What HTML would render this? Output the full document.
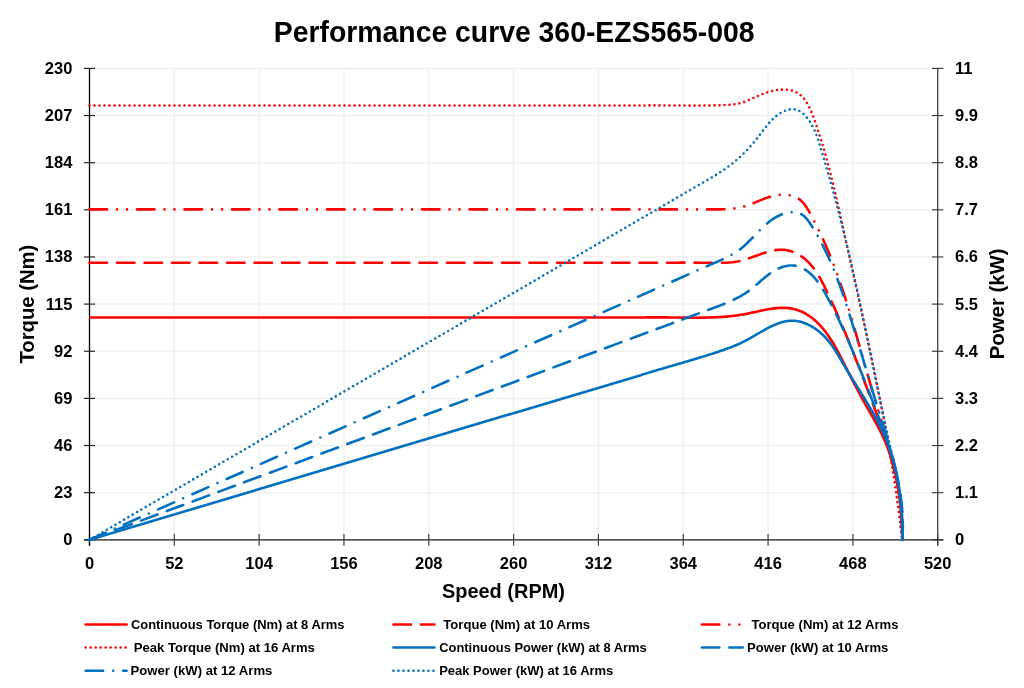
<!DOCTYPE html>
<html><head><meta charset="utf-8"><style>
html,body{margin:0;padding:0;background:#fff;}
svg{display:block;will-change:transform;}
text{font-family:"Liberation Sans",sans-serif;font-weight:bold;fill:#000;}
.g{stroke:#f0f0f0;stroke-width:1.5;}
.tl{font-size:16.5px;}
.title{font-size:30px;}
.at{font-size:20px;}
.lg{font-size:12.5px;}
</style></head><body>
<svg width="1024" height="688" viewBox="0 0 1024 688">
<rect width="1024" height="688" fill="#fff"/>
<line x1="89.5" y1="492.66" x2="937.7" y2="492.66" class="g"/>
<line x1="89.5" y1="445.52" x2="937.7" y2="445.52" class="g"/>
<line x1="89.5" y1="398.38" x2="937.7" y2="398.38" class="g"/>
<line x1="89.5" y1="351.24" x2="937.7" y2="351.24" class="g"/>
<line x1="89.5" y1="304.1" x2="937.7" y2="304.1" class="g"/>
<line x1="89.5" y1="256.96" x2="937.7" y2="256.96" class="g"/>
<line x1="89.5" y1="209.82" x2="937.7" y2="209.82" class="g"/>
<line x1="89.5" y1="162.68" x2="937.7" y2="162.68" class="g"/>
<line x1="89.5" y1="115.54" x2="937.7" y2="115.54" class="g"/>
<line x1="89.5" y1="68.4" x2="937.7" y2="68.4" class="g"/>
<line x1="174.32" y1="68.4" x2="174.32" y2="539.8" class="g"/>
<line x1="259.14" y1="68.4" x2="259.14" y2="539.8" class="g"/>
<line x1="343.96" y1="68.4" x2="343.96" y2="539.8" class="g"/>
<line x1="428.78" y1="68.4" x2="428.78" y2="539.8" class="g"/>
<line x1="513.6" y1="68.4" x2="513.6" y2="539.8" class="g"/>
<line x1="598.42" y1="68.4" x2="598.42" y2="539.8" class="g"/>
<line x1="683.24" y1="68.4" x2="683.24" y2="539.8" class="g"/>
<line x1="768.06" y1="68.4" x2="768.06" y2="539.8" class="g"/>
<line x1="852.88" y1="68.4" x2="852.88" y2="539.8" class="g"/>
<line x1="84" y1="539.8" x2="943.2" y2="539.8" stroke="#595959" stroke-width="1.75"/>
<line x1="89.5" y1="533.9" x2="89.5" y2="545.8" stroke="#404040" stroke-width="1.2"/>
<line x1="174.32" y1="533.9" x2="174.32" y2="545.8" stroke="#404040" stroke-width="1.2"/>
<line x1="259.14" y1="533.9" x2="259.14" y2="545.8" stroke="#404040" stroke-width="1.2"/>
<line x1="343.96" y1="533.9" x2="343.96" y2="545.8" stroke="#404040" stroke-width="1.2"/>
<line x1="428.78" y1="533.9" x2="428.78" y2="545.8" stroke="#404040" stroke-width="1.2"/>
<line x1="513.6" y1="533.9" x2="513.6" y2="545.8" stroke="#404040" stroke-width="1.2"/>
<line x1="598.42" y1="533.9" x2="598.42" y2="545.8" stroke="#404040" stroke-width="1.2"/>
<line x1="683.24" y1="533.9" x2="683.24" y2="545.8" stroke="#404040" stroke-width="1.2"/>
<line x1="768.06" y1="533.9" x2="768.06" y2="545.8" stroke="#404040" stroke-width="1.2"/>
<line x1="852.88" y1="533.9" x2="852.88" y2="545.8" stroke="#404040" stroke-width="1.2"/>
<line x1="937.7" y1="533.9" x2="937.7" y2="545.8" stroke="#404040" stroke-width="1.2"/>
<line x1="89.5" y1="68.4" x2="89.5" y2="545.8" stroke="#000" stroke-width="1.3"/>
<line x1="937.7" y1="68.4" x2="937.7" y2="545.8" stroke="#404040" stroke-width="1.3"/>
<line x1="84" y1="539.8" x2="95" y2="539.8" stroke="#262626" stroke-width="1.2"/>
<line x1="932" y1="539.8" x2="943.4" y2="539.8" stroke="#333" stroke-width="1.1"/>
<line x1="84" y1="492.66" x2="95" y2="492.66" stroke="#262626" stroke-width="1.2"/>
<line x1="932" y1="492.66" x2="943.4" y2="492.66" stroke="#333" stroke-width="1.1"/>
<line x1="84" y1="445.52" x2="95" y2="445.52" stroke="#262626" stroke-width="1.2"/>
<line x1="932" y1="445.52" x2="943.4" y2="445.52" stroke="#333" stroke-width="1.1"/>
<line x1="84" y1="398.38" x2="95" y2="398.38" stroke="#262626" stroke-width="1.2"/>
<line x1="932" y1="398.38" x2="943.4" y2="398.38" stroke="#333" stroke-width="1.1"/>
<line x1="84" y1="351.24" x2="95" y2="351.24" stroke="#262626" stroke-width="1.2"/>
<line x1="932" y1="351.24" x2="943.4" y2="351.24" stroke="#333" stroke-width="1.1"/>
<line x1="84" y1="304.1" x2="95" y2="304.1" stroke="#262626" stroke-width="1.2"/>
<line x1="932" y1="304.1" x2="943.4" y2="304.1" stroke="#333" stroke-width="1.1"/>
<line x1="84" y1="256.96" x2="95" y2="256.96" stroke="#262626" stroke-width="1.2"/>
<line x1="932" y1="256.96" x2="943.4" y2="256.96" stroke="#333" stroke-width="1.1"/>
<line x1="84" y1="209.82" x2="95" y2="209.82" stroke="#262626" stroke-width="1.2"/>
<line x1="932" y1="209.82" x2="943.4" y2="209.82" stroke="#333" stroke-width="1.1"/>
<line x1="84" y1="162.68" x2="95" y2="162.68" stroke="#262626" stroke-width="1.2"/>
<line x1="932" y1="162.68" x2="943.4" y2="162.68" stroke="#333" stroke-width="1.1"/>
<line x1="84" y1="115.54" x2="95" y2="115.54" stroke="#262626" stroke-width="1.2"/>
<line x1="932" y1="115.54" x2="943.4" y2="115.54" stroke="#333" stroke-width="1.1"/>
<line x1="84" y1="68.4" x2="95" y2="68.4" stroke="#262626" stroke-width="1.2"/>
<line x1="932" y1="68.4" x2="943.4" y2="68.4" stroke="#333" stroke-width="1.1"/>
<path d="M89.50 317.50 L640.01 317.55 L642.11 317.49 644.20 317.45 646.30 317.41 648.41 317.38 650.51 317.36 652.61 317.35 654.72 317.34 656.83 317.34 658.94 317.35 661.05 317.36 663.16 317.38 665.28 317.40 667.39 317.42 669.51 317.44 671.62 317.47 673.74 317.50 675.85 317.53 677.97 317.55 680.08 317.58 682.20 317.60 684.31 317.63 686.43 317.65 688.54 317.66 690.65 317.67 692.76 317.68 694.87 317.68 696.98 317.68 699.09 317.67 701.19 317.65 703.29 317.62 705.39 317.58 707.49 317.54 709.59 317.48 711.68 317.41 713.77 317.33 715.86 317.24 717.94 317.14 720.02 317.02 722.10 316.89 724.17 316.74 726.25 316.58 728.32 316.40 730.39 316.19 732.46 315.97 734.53 315.72 736.61 315.45 738.68 315.16 740.76 314.84 742.84 314.49 744.93 314.11 747.02 313.71 749.11 313.28 751.21 312.83 753.31 312.37 755.41 311.91 757.51 311.45 759.61 310.99 761.71 310.54 763.81 310.10 765.91 309.69 768.00 309.30 770.09 308.95 772.18 308.63 774.26 308.36 776.33 308.13 778.40 307.96 780.46 307.85 782.52 307.80 784.56 307.83 786.59 307.93 788.62 308.11 790.63 308.38 792.63 308.74 794.62 309.20 796.60 309.76 798.55 310.42 800.49 311.18 802.40 312.03 804.28 312.97 806.13 313.99 807.94 315.09 809.71 316.27 811.43 317.51 813.10 318.82 814.74 320.20 816.32 321.62 817.86 323.10 819.36 324.63 820.81 326.20 822.22 327.80 823.59 329.44 824.92 331.10 826.21 332.78 827.45 334.49 828.66 336.21 829.84 337.96 830.98 339.72 832.10 341.50 833.19 343.29 834.25 345.09 835.29 346.91 836.31 348.74 837.32 350.58 838.30 352.43 839.28 354.28 840.24 356.14 841.20 358.00 842.15 359.87 843.10 361.74 844.04 363.61 844.99 365.47 845.93 367.34 846.88 369.21 847.83 371.08 848.77 372.95 849.72 374.82 850.67 376.69 851.63 378.56 852.59 380.42 853.55 382.29 854.51 384.16 855.48 386.02 856.46 387.88 857.44 389.74 858.43 391.60 859.43 393.46 860.43 395.31 861.44 397.17 862.46 399.02 863.49 400.86 864.52 402.71 865.56 404.55 866.61 406.40 867.66 408.24 868.72 410.08 869.77 411.92 870.82 413.77 871.87 415.61 872.92 417.46 873.95 419.31 874.98 421.16 876.00 423.02 877.01 424.89 878.01 426.75 878.99 428.63 879.95 430.51 880.90 432.39 881.83 434.29 882.73 436.19 883.62 438.10 884.47 440.02 885.31 441.95 886.11 443.89 886.89 445.84 887.65 447.80 888.38 449.77 889.08 451.74 889.77 453.73 890.42 455.72 891.06 457.72 891.67 459.73 892.26 461.74 892.83 463.76 893.38 465.79 893.91 467.83 894.41 469.87 894.90 471.91 895.36 473.97 895.81 476.02 896.24 478.09 896.65 480.15 897.04 482.23 897.41 484.30 897.77 486.38 898.11 488.47 898.43 490.56 898.74 492.65 899.03 494.74 899.30 496.84 899.56 498.94 899.81 501.04 900.04 503.15 900.26 505.25 900.47 507.36 900.66 509.47 900.84 511.57 901.01 513.68 901.17 515.79 901.32 517.90 901.46 520.01 901.58 522.12 901.70 524.23 901.80 526.34 901.90 528.45 901.99 530.55 902.07 532.66 902.15 534.76 902.21 536.86 902.27 538.95 902.30 540.00" stroke="#ff0000" stroke-width="2.6" fill="none" stroke-linecap="butt" stroke-linejoin="round"/>
<path d="M89.50 262.70 L640.00 262.70 L642.36 262.71 644.72 262.71 647.08 262.72 649.43 262.72 651.79 262.72 654.15 262.72 656.51 262.72 658.87 262.72 661.23 262.71 663.59 262.71 665.95 262.70 668.31 262.70 670.67 262.69 673.03 262.69 675.39 262.68 677.75 262.68 680.11 262.67 682.47 262.67 684.83 262.67 687.19 262.67 689.55 262.67 691.92 262.67 694.28 262.67 696.63 262.67 698.99 262.68 701.35 262.69 703.71 262.70 706.07 262.72 708.43 262.73 710.79 262.75 713.15 262.77 715.50 262.79 717.86 262.81 720.21 262.80 722.56 262.77 724.91 262.71 727.25 262.61 729.58 262.45 731.91 262.24 734.23 261.97 736.54 261.62 738.85 261.19 741.14 260.67 743.42 260.07 745.70 259.40 747.97 258.67 750.24 257.89 752.50 257.09 754.77 256.26 757.03 255.43 759.30 254.61 761.57 253.81 763.85 253.03 766.14 252.31 768.44 251.64 770.75 251.05 773.05 250.55 775.36 250.15 777.66 249.86 779.95 249.71 782.22 249.70 784.47 249.86 786.70 250.17 788.90 250.64 791.07 251.26 793.20 252.01 795.29 252.89 797.33 253.90 799.32 255.03 801.26 256.27 803.13 257.61 804.95 259.04 806.69 260.57 808.36 262.17 809.97 263.86 811.50 265.61 812.98 267.43 814.40 269.31 815.76 271.25 817.08 273.23 818.35 275.26 819.57 277.33 820.76 279.44 821.92 281.57 823.05 283.72 824.15 285.90 825.23 288.08 826.29 290.28 827.34 292.47 828.38 294.67 829.41 296.86 830.43 299.04 831.44 301.23 832.44 303.42 833.44 305.60 834.42 307.78 835.40 309.96 836.37 312.13 837.33 314.31 838.28 316.48 839.22 318.65 840.16 320.83 841.09 323.00 842.02 325.16 842.94 327.33 843.85 329.50 844.75 331.67 845.66 333.83 846.55 336.00 847.44 338.16 848.32 340.33 849.20 342.49 850.08 344.66 850.95 346.82 851.82 348.99 852.68 351.16 853.54 353.32 854.39 355.49 855.25 357.66 856.09 359.82 856.94 361.99 857.79 364.17 858.63 366.34 859.47 368.51 860.30 370.68 861.14 372.86 861.98 375.04 862.81 377.22 863.64 379.40 864.47 381.58 865.31 383.77 866.14 385.96 866.97 388.15 867.80 390.34 868.63 392.53 869.46 394.73 870.29 396.93 871.12 399.13 871.95 401.34 872.77 403.55 873.59 405.76 874.41 407.97 875.23 410.18 876.04 412.40 876.85 414.62 877.65 416.85 878.45 419.07 879.24 421.30 880.03 423.53 880.81 425.77 881.58 428.00 882.35 430.24 883.10 432.49 883.85 434.73 884.60 436.98 885.33 439.23 886.05 441.48 886.76 443.74 887.47 446.00 888.16 448.26 888.84 450.52 889.51 452.79 890.17 455.06 890.81 457.33 891.45 459.61 892.07 461.89 892.67 464.17 893.26 466.46 893.84 468.74 894.40 471.03 894.95 473.33 895.48 475.62 896.00 477.92 896.50 480.23 896.98 482.53 897.44 484.84 897.89 487.15 898.32 489.47 898.73 491.79 899.12 494.11 899.49 496.43 899.84 498.76 900.17 501.09 900.48 503.42 900.77 505.76 901.03 508.10 901.28 510.44 901.50 512.79 901.70 515.14 901.88 517.49 902.03 519.84 902.16 522.20 902.26 524.57 902.34 526.93 902.39 529.30 902.42 531.67 902.42 534.05 902.39 536.43 902.34 538.81 902.30 540.00" stroke="#ff0000" stroke-width="2.6" fill="none" stroke-linecap="round" stroke-linejoin="round" stroke-dasharray="17.5 10"/>
<path d="M89.50 209.40 L640.00 209.40 L642.61 209.40 645.23 209.40 647.84 209.40 650.45 209.40 653.07 209.40 655.68 209.39 658.30 209.39 660.91 209.39 663.53 209.39 666.14 209.39 668.76 209.40 671.38 209.40 673.99 209.40 676.61 209.40 679.23 209.40 681.84 209.40 684.46 209.40 687.08 209.40 689.69 209.40 692.31 209.40 694.92 209.41 697.54 209.41 700.15 209.41 702.77 209.41 705.38 209.41 707.99 209.41 710.60 209.41 713.22 209.41 715.82 209.41 718.43 209.39 721.03 209.35 723.63 209.27 726.22 209.16 728.81 209.00 731.38 208.77 733.94 208.48 736.50 208.11 739.04 207.66 741.56 207.11 744.07 206.45 746.56 205.68 749.05 204.83 751.52 203.90 753.99 202.92 756.45 201.90 758.92 200.88 761.40 199.87 763.88 198.89 766.39 197.97 768.91 197.11 771.45 196.35 774.02 195.71 776.62 195.20 779.26 194.84 781.93 194.67 784.62 194.68 787.29 194.89 789.92 195.30 792.47 195.93 794.90 196.79 797.20 197.88 799.32 199.21 801.24 200.79 802.99 202.57 804.59 204.53 806.07 206.63 807.46 208.83 808.79 211.10 810.07 213.40 811.34 215.71 812.59 218.03 813.81 220.35 815.02 222.68 816.21 225.02 817.39 227.36 818.54 229.72 819.68 232.07 820.80 234.44 821.91 236.81 823.00 239.18 824.07 241.57 825.13 243.95 826.17 246.35 827.20 248.75 828.21 251.15 829.21 253.56 830.19 255.98 831.16 258.40 832.12 260.83 833.07 263.26 834.00 265.69 834.92 268.13 835.83 270.58 836.73 273.03 837.62 275.48 838.49 277.94 839.36 280.40 840.22 282.86 841.06 285.33 841.90 287.81 842.73 290.28 843.55 292.76 844.36 295.25 845.16 297.73 845.95 300.22 846.74 302.71 847.52 305.21 848.29 307.71 849.06 310.21 849.82 312.71 850.58 315.21 851.33 317.72 852.08 320.23 852.82 322.74 853.55 325.25 854.29 327.76 855.01 330.28 855.74 332.80 856.46 335.31 857.18 337.83 857.90 340.35 858.62 342.87 859.33 345.39 860.04 347.92 860.76 350.44 861.47 352.96 862.18 355.48 862.89 358.01 863.60 360.53 864.32 363.05 865.03 365.58 865.75 368.10 866.46 370.62 867.18 373.14 867.90 375.66 868.63 378.18 869.36 380.70 870.09 383.22 870.82 385.73 871.56 388.25 872.31 390.76 873.06 393.27 873.81 395.78 874.56 398.29 875.32 400.80 876.08 403.30 876.84 405.81 877.60 408.32 878.36 410.82 879.12 413.33 879.87 415.83 880.63 418.34 881.38 420.84 882.13 423.34 882.88 425.85 883.62 428.36 884.35 430.86 885.08 433.37 885.81 435.88 886.52 438.39 887.23 440.90 887.93 443.41 888.63 445.92 889.31 448.44 889.98 450.96 890.64 453.48 891.29 456.00 891.93 458.52 892.55 461.05 893.17 463.57 893.76 466.11 894.35 468.64 894.92 471.18 895.47 473.72 896.00 476.26 896.52 478.81 897.02 481.36 897.51 483.91 897.97 486.47 898.42 489.03 898.84 491.60 899.25 494.17 899.63 496.74 899.99 499.32 900.33 501.91 900.64 504.50 900.93 507.09 901.20 509.69 901.44 512.30 901.66 514.91 901.84 517.52 902.01 520.14 902.14 522.77 902.25 525.40 902.32 528.04 902.37 530.69 902.39 533.34 902.38 536.00 902.33 538.67 902.30 540.00" stroke="#ff0000" stroke-width="2.6" fill="none" stroke-linecap="round" stroke-linejoin="round" stroke-dasharray="17.5 10 0 10 0 10"/>
<path d="M89.50 105.50 L640.00 105.53 L641.56 105.50 643.12 105.48 644.68 105.46 646.24 105.45 647.80 105.43 649.37 105.42 650.93 105.41 652.49 105.41 654.05 105.41 655.61 105.41 657.17 105.41 658.73 105.41 660.30 105.41 661.86 105.42 663.42 105.43 664.98 105.44 666.54 105.45 668.11 105.46 669.67 105.47 671.23 105.48 672.79 105.49 674.35 105.50 675.92 105.52 677.48 105.53 679.04 105.54 680.60 105.55 682.16 105.56 683.73 105.57 685.29 105.58 686.85 105.59 688.41 105.60 689.97 105.60 691.54 105.61 693.10 105.61 694.66 105.61 696.22 105.61 697.78 105.60 699.34 105.60 700.90 105.59 702.46 105.58 704.02 105.56 705.59 105.54 707.15 105.52 708.71 105.50 710.27 105.47 711.83 105.44 713.39 105.41 714.94 105.37 716.50 105.32 718.06 105.28 719.62 105.22 721.18 105.17 722.74 105.11 724.30 105.04 725.85 104.97 727.41 104.89 728.97 104.79 730.52 104.68 732.06 104.54 733.61 104.37 735.14 104.16 736.67 103.91 738.19 103.62 739.70 103.27 741.20 102.86 742.69 102.40 744.16 101.90 745.63 101.36 747.08 100.79 748.52 100.19 749.94 99.58 751.36 98.96 752.76 98.33 754.16 97.70 755.56 97.07 756.96 96.44 758.36 95.81 759.77 95.20 761.19 94.60 762.62 94.02 764.07 93.46 765.53 92.92 767.02 92.41 768.53 91.93 770.07 91.49 771.64 91.08 773.24 90.72 774.87 90.40 776.52 90.13 778.19 89.91 779.87 89.75 781.54 89.65 783.21 89.60 784.86 89.63 786.49 89.72 788.09 89.88 789.65 90.11 791.16 90.43 792.62 90.82 795.36 91.86 797.86 93.21 800.14 94.85 802.22 96.75 804.12 98.89 805.85 101.23 807.44 103.75 808.18 105.07 808.90 106.43 809.58 107.81 810.25 109.23 810.88 110.67 811.50 112.13 812.10 113.62 812.68 115.11 813.25 116.62 813.81 118.14 814.36 119.66 814.90 121.18 815.43 122.70 815.96 124.23 816.48 125.75 817.00 127.27 817.51 128.79 818.01 130.31 818.52 131.84 819.01 133.36 819.50 134.88 819.99 136.40 820.46 137.92 820.94 139.43 821.41 140.95 821.87 142.47 822.34 143.99 822.79 145.51 823.24 147.03 823.69 148.54 824.13 150.06 824.57 151.58 825.00 153.09 825.43 154.61 825.86 156.13 826.28 157.64 826.70 159.16 827.11 160.67 827.52 162.19 827.93 163.71 828.33 165.22 828.74 166.74 829.13 168.25 829.53 169.77 829.92 171.28 830.30 172.79 830.69 174.31 831.07 175.82 831.45 177.34 831.82 178.85 832.20 180.36 832.57 181.88 832.93 183.39 833.30 184.91 833.66 186.42 834.02 187.93 834.38 189.45 834.74 190.96 835.10 192.47 835.45 193.99 835.80 195.50 836.15 197.01 836.50 198.53 836.84 200.04 837.19 201.55 837.53 203.07 837.87 204.58 838.21 206.09 838.55 207.61 838.89 209.12 839.23 210.63 839.57 212.15 839.90 213.66 840.24 215.18 840.57 216.69 840.91 218.20 841.24 219.72 841.58 221.23 841.91 222.75 842.24 224.26 842.57 225.78 842.91 227.29 843.24 228.81 843.57 230.32 843.91 231.84 844.24 233.35 844.57 234.87 844.91 236.39 845.24 237.90 845.58 239.42 845.91 240.94 846.25 242.45 846.58 243.97 846.92 245.49 847.26 247.00 847.59 248.52 847.93 250.04 848.27 251.56 848.60 253.07 848.94 254.59 849.28 256.11 849.62 257.63 849.95 259.15 850.29 260.67 850.63 262.19 850.97 263.71 851.31 265.23 851.65 266.75 851.98 268.27 852.32 269.79 852.66 271.31 853.00 272.83 853.34 274.35 853.68 275.87 854.02 277.39 854.35 278.91 854.69 280.43 855.03 281.96 855.37 283.48 855.71 285.00 856.05 286.52 856.39 288.04 856.72 289.57 857.06 291.09 857.40 292.61 857.74 294.14 858.08 295.66 858.42 297.18 858.75 298.71 859.09 300.23 859.43 301.75 859.77 303.28 860.10 304.80 860.44 306.33 860.78 307.85 861.11 309.38 861.45 310.90 861.78 312.43 862.12 313.95 862.45 315.48 862.79 317.00 863.12 318.53 863.46 320.06 863.79 321.58 864.13 323.11 864.46 324.64 864.79 326.16 865.12 327.69 865.46 329.22 865.79 330.74 866.12 332.27 866.45 333.80 866.78 335.33 867.11 336.86 867.44 338.38 867.77 339.91 868.10 341.44 868.43 342.97 868.75 344.50 869.08 346.03 869.41 347.56 869.73 349.09 870.06 350.62 870.38 352.15 870.71 353.68 871.03 355.21 871.36 356.74 871.68 358.27 872.00 359.80 872.32 361.33 872.64 362.86 872.96 364.39 873.28 365.92 873.60 367.45 873.92 368.99 874.23 370.52 874.55 372.05 874.87 373.58 875.18 375.11 875.50 376.65 875.81 378.18 876.12 379.71 876.43 381.25 876.74 382.78 877.05 384.31 877.36 385.85 877.67 387.38 877.98 388.91 878.29 390.45 878.59 391.98 878.90 393.52 879.20 395.05 879.51 396.59 879.81 398.12 880.11 399.66 880.41 401.19 880.71 402.73 881.01 404.26 881.31 405.80 881.60 407.33 881.90 408.87 882.19 410.41 882.49 411.94 882.78 413.48 883.07 415.01 883.36 416.55 883.65 418.09 883.94 419.63 884.22 421.16 884.51 422.70 884.80 424.24 885.08 425.78 885.36 427.31 885.64 428.85 885.92 430.39 886.20 431.93 886.48 433.47 886.76 435.01 887.03 436.55 887.31 438.08 887.58 439.62 887.85 441.16 888.12 442.70 888.39 444.24 888.66 445.78 888.93 447.32 889.19 448.86 889.46 450.40 889.72 451.94 889.98 453.48 890.24 455.02 890.50 456.57 890.76 458.11 891.01 459.65 891.27 461.19 891.52 462.73 891.77 464.27 892.02 465.81 892.27 467.36 892.52 468.90 892.76 470.44 893.01 471.98 893.25 473.53 893.49 475.07 893.73 476.61 893.97 478.15 894.20 479.70 894.44 481.24 894.67 482.79 894.90 484.33 895.13 485.87 895.36 487.42 895.59 488.96 895.82 490.51 896.04 492.05 896.26 493.59 896.48 495.14 896.70 496.68 896.92 498.23 897.13 499.77 897.35 501.32 897.56 502.86 897.77 504.41 897.98 505.96 898.18 507.50 898.39 509.05 898.59 510.59 898.79 512.14 898.99 513.69 899.19 515.23 899.39 516.78 899.58 518.33 899.77 519.87 899.96 521.42 900.15 522.97 900.34 524.52 900.52 526.06 900.71 527.61 900.89 529.16 901.07 530.71 901.24 532.26 901.42 533.81 901.59 535.35 901.76 536.90 901.93 538.45 902.10 540.00 902.10 540.00" stroke="#ff0000" stroke-width="2.6" fill="none" stroke-linecap="round" stroke-linejoin="round" stroke-dasharray="0 5"/>
<path d="M89.50 539.80 L640.03 375.39 L642.03 374.76 644.03 374.13 646.04 373.50 648.06 372.88 650.08 372.27 652.10 371.65 654.12 371.04 656.15 370.43 658.19 369.83 660.22 369.23 662.26 368.63 664.30 368.03 666.34 367.43 668.38 366.84 670.42 366.24 672.47 365.65 674.51 365.06 676.56 364.46 678.60 363.87 680.64 363.28 682.69 362.68 684.73 362.09 686.77 361.49 688.81 360.89 690.84 360.29 692.88 359.69 694.91 359.08 696.94 358.47 698.96 357.86 700.98 357.25 703.00 356.63 705.01 356.01 707.02 355.38 709.03 354.75 711.03 354.12 713.02 353.47 715.01 352.83 716.99 352.18 718.96 351.52 720.93 350.85 722.89 350.18 724.85 349.50 726.80 348.80 728.74 348.09 730.68 347.35 732.62 346.59 734.55 345.81 736.48 345.00 738.40 344.15 740.33 343.28 742.25 342.36 744.17 341.40 746.09 340.40 748.01 339.36 749.93 338.30 751.84 337.21 753.76 336.10 755.68 334.99 757.60 333.87 759.52 332.75 761.44 331.64 763.36 330.55 765.29 329.49 767.21 328.45 769.14 327.45 771.07 326.49 773.00 325.58 774.93 324.73 776.87 323.94 778.81 323.22 780.75 322.58 782.70 322.01 784.65 321.54 786.60 321.17 788.56 320.89 790.52 320.73 792.49 320.68 794.46 320.75 796.44 320.95 798.41 321.27 800.39 321.72 802.36 322.28 804.31 322.95 806.26 323.72 808.18 324.59 810.08 325.55 811.95 326.60 813.79 327.73 815.59 328.94 817.35 330.22 819.07 331.56 820.74 332.97 822.35 334.42 823.91 335.93 825.41 337.48 826.85 339.07 828.23 340.70 829.56 342.35 830.84 344.04 832.08 345.76 833.28 347.50 834.45 349.27 835.59 351.05 836.71 352.85 837.81 354.66 838.89 356.48 839.96 358.31 841.03 360.15 842.10 361.98 843.17 363.82 844.25 365.65 845.34 367.47 846.43 369.30 847.53 371.12 848.64 372.93 849.75 374.75 850.87 376.56 851.99 378.37 853.12 380.18 854.25 381.98 855.37 383.79 856.50 385.59 857.63 387.40 858.76 389.20 859.89 391.01 861.01 392.82 862.13 394.62 863.25 396.43 864.36 398.24 865.46 400.06 866.56 401.87 867.66 403.69 868.74 405.51 869.82 407.34 870.89 409.16 871.94 411.00 872.99 412.84 874.02 414.68 875.04 416.53 876.05 418.38 877.04 420.24 878.02 422.11 878.99 423.98 879.93 425.86 880.86 427.75 881.77 429.64 882.67 431.54 883.54 433.45 884.39 435.38 885.23 437.30 886.04 439.24 886.82 441.19 887.59 443.15 888.33 445.12 889.05 447.10 889.75 449.08 890.42 451.08 891.08 453.08 891.71 455.09 892.32 457.11 892.91 459.14 893.48 461.17 894.03 463.22 894.56 465.26 895.07 467.32 895.56 469.38 896.03 471.45 896.48 473.52 896.91 475.60 897.33 477.68 897.72 479.76 898.10 481.86 898.46 483.95 898.80 486.05 899.13 488.15 899.43 490.26 899.72 492.37 900.00 494.48 900.25 496.60 900.49 498.71 900.72 500.83 900.93 502.95 901.12 505.07 901.30 507.19 901.46 509.32 901.61 511.44 901.75 513.56 901.87 515.69 901.97 517.81 902.06 519.93 902.14 522.05 902.21 524.17 902.26 526.29 902.30 528.41 902.33 530.52 902.34 532.63 902.34 534.74 902.33 536.85 902.31 538.95 902.30 540.00" stroke="#0070c0" stroke-width="2.6" fill="none" stroke-linecap="butt" stroke-linejoin="round"/>
<path d="M89.50 539.80 L640.00 335.24 L642.23 334.40 644.47 333.57 646.70 332.74 648.94 331.91 651.17 331.08 653.40 330.25 655.64 329.42 657.87 328.59 660.11 327.76 662.34 326.93 664.57 326.10 666.81 325.27 669.04 324.44 671.28 323.61 673.51 322.78 675.75 321.95 677.98 321.12 680.22 320.29 682.45 319.46 684.69 318.63 686.92 317.80 689.16 316.97 691.39 316.14 693.63 315.31 695.86 314.48 698.10 313.65 700.33 312.82 702.57 311.99 704.80 311.17 707.04 310.34 709.27 309.51 711.51 308.68 713.74 307.86 715.97 307.03 718.20 306.19 720.43 305.34 722.64 304.48 724.85 303.60 727.04 302.70 729.22 301.77 731.38 300.81 733.53 299.82 735.65 298.79 737.76 297.71 739.84 296.59 741.89 295.42 743.91 294.20 745.90 292.92 747.86 291.58 749.79 290.17 751.68 288.70 753.55 287.18 755.40 285.62 757.23 284.03 759.06 282.43 760.89 280.84 762.73 279.25 764.58 277.69 766.45 276.16 768.35 274.68 770.29 273.27 772.27 271.93 774.30 270.67 776.39 269.52 778.54 268.47 780.76 267.56 783.03 266.78 785.34 266.16 787.68 265.72 790.03 265.47 792.37 265.43 794.70 265.62 796.99 266.06 799.24 266.74 801.42 267.64 803.53 268.71 805.55 269.92 807.48 271.25 809.32 272.68 811.07 274.22 812.75 275.85 814.35 277.56 815.89 279.35 817.37 281.21 818.79 283.12 820.15 285.10 821.47 287.12 822.76 289.17 824.00 291.26 825.21 293.38 826.40 295.50 827.57 297.64 828.73 299.78 829.87 301.92 831.00 304.06 832.11 306.21 833.21 308.35 834.29 310.50 835.36 312.65 836.42 314.80 837.47 316.96 838.51 319.11 839.53 321.27 840.55 323.43 841.55 325.59 842.55 327.76 843.53 329.92 844.51 332.09 845.47 334.26 846.43 336.43 847.38 338.60 848.32 340.78 849.26 342.95 850.18 345.13 851.11 347.31 852.02 349.49 852.93 351.68 853.83 353.86 854.73 356.05 855.62 358.24 856.51 360.43 857.40 362.62 858.28 364.81 859.16 367.01 860.03 369.20 860.91 371.40 861.78 373.60 862.65 375.80 863.52 378.01 864.38 380.21 865.25 382.42 866.12 384.63 866.98 386.84 867.85 389.05 868.72 391.26 869.59 393.48 870.46 395.70 871.33 397.91 872.19 400.13 873.06 402.36 873.92 404.58 874.78 406.81 875.64 409.04 876.49 411.27 877.34 413.50 878.18 415.73 879.02 417.97 879.85 420.21 880.68 422.45 881.50 424.69 882.31 426.94 883.11 429.19 883.91 431.44 884.69 433.70 885.47 435.95 886.24 438.21 886.99 440.48 887.74 442.74 888.47 445.01 889.19 447.28 889.90 449.56 890.60 451.83 891.28 454.11 891.95 456.40 892.60 458.69 893.24 460.98 893.86 463.27 894.47 465.57 895.05 467.87 895.63 470.17 896.18 472.48 896.72 474.79 897.23 477.11 897.73 479.43 898.21 481.75 898.67 484.08 899.10 486.41 899.52 488.74 899.91 491.08 900.28 493.42 900.63 495.77 900.96 498.12 901.26 500.47 901.53 502.83 901.78 505.20 902.01 507.57 902.21 509.94 902.38 512.32 902.53 514.70 902.65 517.09 902.74 519.48 902.80 521.87 902.83 524.27 902.83 526.68 902.81 529.09 902.75 531.51 902.66 533.93 902.54 536.35 902.39 538.78 902.30 540.00" stroke="#0070c0" stroke-width="2.6" fill="none" stroke-linecap="round" stroke-linejoin="round" stroke-dasharray="17.5 10"/>
<path d="M89.50 539.80 L639.99 295.86 L642.44 294.80 644.88 293.74 647.31 292.67 649.75 291.60 652.18 290.52 654.61 289.45 657.04 288.37 659.47 287.29 661.90 286.21 664.33 285.12 666.76 284.04 669.18 282.96 671.61 281.87 674.03 280.79 676.46 279.70 678.88 278.62 681.31 277.53 683.74 276.45 686.16 275.37 688.59 274.28 691.02 273.20 693.45 272.13 695.89 271.05 698.32 269.98 700.76 268.91 703.19 267.84 705.63 266.77 708.08 265.71 710.52 264.65 712.97 263.60 715.42 262.55 717.87 261.49 720.30 260.41 722.72 259.31 725.12 258.18 727.49 257.00 729.84 255.78 732.14 254.50 734.40 253.16 736.62 251.74 738.78 250.24 740.88 248.65 742.93 246.98 744.93 245.23 746.88 243.41 748.81 241.54 750.70 239.64 752.58 237.70 754.46 235.75 756.33 233.80 758.20 231.86 760.09 229.93 762.01 228.04 763.95 226.20 765.93 224.41 767.96 222.69 770.04 221.05 772.19 219.51 774.40 218.07 776.70 216.75 779.08 215.55 781.55 214.50 784.12 213.61 786.76 212.90 789.42 212.41 792.06 212.17 794.65 212.21 797.15 212.57 799.50 213.28 801.67 214.37 803.68 215.81 805.53 217.55 807.26 219.52 808.88 221.66 810.42 223.93 811.91 226.26 813.36 228.61 814.78 230.96 816.17 233.32 817.52 235.69 818.85 238.07 820.14 240.46 821.41 242.85 822.65 245.24 823.86 247.65 825.05 250.06 826.21 252.48 827.35 254.90 828.47 257.33 829.56 259.77 830.63 262.21 831.68 264.66 832.70 267.11 833.71 269.57 834.70 272.03 835.68 274.50 836.63 276.97 837.57 279.45 838.50 281.93 839.40 284.42 840.30 286.91 841.18 289.40 842.05 291.90 842.91 294.40 843.76 296.91 844.60 299.41 845.43 301.93 846.25 304.44 847.07 306.96 847.88 309.48 848.68 312.00 849.48 314.53 850.28 317.06 851.07 319.59 851.85 322.12 852.64 324.65 853.42 327.19 854.20 329.73 854.97 332.27 855.75 334.81 856.52 337.35 857.29 339.90 858.05 342.44 858.82 344.99 859.58 347.54 860.34 350.08 861.11 352.63 861.87 355.18 862.63 357.74 863.38 360.29 864.14 362.84 864.90 365.39 865.66 367.95 866.42 370.50 867.18 373.05 867.94 375.61 868.70 378.16 869.46 380.71 870.23 383.27 870.99 385.82 871.76 388.37 872.52 390.92 873.29 393.47 874.07 396.02 874.84 398.57 875.62 401.12 876.40 403.67 877.18 406.21 877.97 408.76 878.76 411.30 879.55 413.85 880.35 416.39 881.15 418.92 881.95 421.46 882.76 424.00 883.57 426.53 884.37 429.07 885.17 431.61 885.97 434.14 886.76 436.68 887.54 439.22 888.31 441.76 889.07 444.31 889.81 446.85 890.55 449.40 891.26 451.96 891.96 454.51 892.63 457.08 893.29 459.65 893.92 462.22 894.52 464.80 895.10 467.39 895.66 469.98 896.19 472.57 896.70 475.18 897.18 477.79 897.64 480.40 898.07 483.02 898.49 485.64 898.88 488.26 899.24 490.89 899.59 493.53 899.91 496.17 900.21 498.81 900.49 501.45 900.74 504.10 900.98 506.75 901.20 509.40 901.39 512.05 901.57 514.71 901.72 517.37 901.86 520.03 901.98 522.69 902.08 525.35 902.16 528.01 902.22 530.68 902.26 533.34 902.29 536.00 902.30 538.67 902.30 540.00" stroke="#0070c0" stroke-width="2.6" fill="none" stroke-linecap="round" stroke-linejoin="round" stroke-dasharray="17.5 10 0 10"/>
<path d="M89.50 539.80 L639.99 219.24 L641.40 218.43 642.80 217.62 644.20 216.82 645.60 216.01 647.00 215.20 648.39 214.38 649.79 213.57 651.18 212.76 652.58 211.95 653.97 211.14 655.36 210.33 656.75 209.52 658.14 208.70 659.53 207.89 660.92 207.08 662.31 206.27 663.70 205.45 665.09 204.64 666.48 203.83 667.87 203.02 669.26 202.20 670.64 201.39 672.03 200.58 673.42 199.77 674.81 198.95 676.20 198.14 677.59 197.33 678.98 196.52 680.36 195.71 681.76 194.89 683.15 194.08 684.54 193.27 685.93 192.46 687.32 191.65 688.71 190.84 690.11 190.03 691.50 189.22 692.90 188.41 694.30 187.60 695.70 186.79 697.10 185.99 698.50 185.18 699.90 184.37 701.30 183.56 702.71 182.76 704.11 181.95 705.51 181.14 706.92 180.33 708.32 179.51 709.71 178.70 711.11 177.87 712.49 177.05 713.88 176.21 715.25 175.37 716.62 174.52 717.98 173.67 719.34 172.81 720.68 171.93 722.02 171.05 723.34 170.16 724.65 169.25 725.95 168.33 727.24 167.40 728.52 166.46 729.78 165.51 731.04 164.54 732.28 163.56 733.51 162.57 734.73 161.56 735.93 160.54 737.13 159.50 738.31 158.46 739.49 157.40 740.66 156.32 741.81 155.23 742.95 154.13 744.09 153.01 745.22 151.88 746.33 150.73 747.44 149.57 748.54 148.40 749.63 147.20 750.71 146.00 751.78 144.78 752.84 143.54 753.90 142.29 754.94 141.02 755.98 139.74 757.01 138.44 758.04 137.12 759.06 135.80 760.07 134.46 761.09 133.12 762.10 131.78 763.12 130.44 764.15 129.11 765.18 127.78 766.22 126.47 767.27 125.18 768.34 123.91 769.42 122.66 770.52 121.45 771.64 120.26 772.79 119.11 773.95 118.00 775.15 116.94 776.37 115.92 777.62 114.95 778.91 114.04 780.23 113.19 781.59 112.40 782.99 111.68 784.43 111.02 785.92 110.44 787.44 109.95 788.99 109.55 790.54 109.28 792.10 109.15 793.63 109.18 795.13 109.39 796.59 109.78 797.99 110.35 799.35 111.06 800.66 111.90 801.92 112.83 803.12 113.84 804.27 114.89 805.37 115.99 806.42 117.14 807.42 118.32 808.37 119.55 809.28 120.80 810.15 122.10 810.98 123.43 811.77 124.78 812.53 126.17 813.25 127.59 813.95 129.02 814.61 130.49 815.24 131.97 815.86 133.47 816.44 134.99 817.01 136.53 817.56 138.08 818.09 139.64 818.61 141.21 819.11 142.79 819.61 144.37 820.10 145.96 820.58 147.55 821.05 149.14 821.53 150.73 822.00 152.32 822.47 153.91 822.94 155.49 823.40 157.07 823.87 158.65 824.33 160.23 824.79 161.81 825.25 163.39 825.70 164.96 826.16 166.54 826.61 168.11 827.06 169.68 827.51 171.25 827.95 172.82 828.40 174.39 828.84 175.95 829.28 177.52 829.72 179.08 830.16 180.65 830.60 182.21 831.03 183.77 831.46 185.33 831.89 186.89 832.32 188.45 832.75 190.01 833.17 191.56 833.60 193.12 834.02 194.68 834.44 196.23 834.86 197.78 835.27 199.34 835.69 200.89 836.10 202.44 836.51 204.00 836.92 205.55 837.33 207.10 837.74 208.65 838.14 210.20 838.55 211.75 838.95 213.30 839.35 214.85 839.75 216.40 840.15 217.95 840.54 219.50 840.94 221.05 841.33 222.59 841.72 224.14 842.11 225.69 842.50 227.24 842.89 228.79 843.28 230.34 843.66 231.89 844.04 233.44 844.42 234.99 844.80 236.54 845.18 238.09 845.56 239.64 845.94 241.19 846.31 242.74 846.68 244.30 847.06 245.85 847.43 247.40 847.80 248.96 848.16 250.51 848.53 252.07 848.90 253.62 849.26 255.18 849.62 256.74 849.99 258.30 850.35 259.85 850.71 261.41 851.07 262.97 851.42 264.54 851.78 266.10 852.13 267.66 852.49 269.22 852.84 270.79 853.19 272.35 853.54 273.92 853.89 275.49 854.24 277.05 854.59 278.62 854.94 280.19 855.28 281.76 855.63 283.33 855.97 284.90 856.31 286.47 856.66 288.04 857.00 289.61 857.34 291.18 857.68 292.76 858.02 294.33 858.36 295.90 858.70 297.48 859.03 299.05 859.37 300.63 859.70 302.20 860.04 303.78 860.37 305.36 860.71 306.93 861.04 308.51 861.37 310.09 861.71 311.67 862.04 313.25 862.37 314.83 862.70 316.41 863.03 317.99 863.36 319.57 863.69 321.15 864.02 322.73 864.35 324.31 864.68 325.89 865.00 327.47 865.33 329.05 865.66 330.64 865.99 332.22 866.31 333.80 866.64 335.39 866.96 336.97 867.29 338.55 867.62 340.14 867.94 341.72 868.27 343.30 868.59 344.89 868.92 346.47 869.24 348.06 869.57 349.64 869.89 351.23 870.22 352.81 870.55 354.40 870.87 355.98 871.20 357.57 871.52 359.15 871.85 360.74 872.17 362.32 872.50 363.91 872.82 365.49 873.15 367.08 873.48 368.66 873.80 370.25 874.13 371.83 874.46 373.42 874.78 375.00 875.11 376.59 875.44 378.17 875.77 379.76 876.09 381.34 876.42 382.92 876.75 384.51 877.08 386.09 877.41 387.68 877.74 389.26 878.07 390.84 878.40 392.43 878.74 394.01 879.07 395.59 879.40 397.18 879.74 398.76 880.07 400.34 880.40 401.92 880.74 403.50 881.08 405.08 881.41 406.67 881.75 408.25 882.09 409.83 882.43 411.41 882.77 412.99 883.11 414.57 883.45 416.14 883.79 417.72 884.13 419.30 884.48 420.88 884.82 422.46 885.16 424.03 885.51 425.61 885.86 427.18 886.21 428.76 886.56 430.33 886.91 431.91 887.26 433.48 887.61 435.06 887.96 436.63 888.32 438.20 888.67 439.77 889.03 441.34 889.39 442.92 889.74 444.49 890.10 446.06 890.46 447.62 890.82 449.19 891.18 450.76 891.53 452.33 891.89 453.90 892.24 455.47 892.60 457.04 892.95 458.61 893.30 460.17 893.65 461.74 893.99 463.31 894.33 464.88 894.67 466.45 895.01 468.02 895.34 469.59 895.67 471.16 895.99 472.73 896.31 474.31 896.63 475.88 896.94 477.45 897.24 479.03 897.54 480.60 897.83 482.18 898.12 483.76 898.40 485.33 898.68 486.91 898.94 488.49 899.20 490.07 899.46 491.66 899.70 493.24 899.94 494.83 900.17 496.41 900.39 498.00 900.60 499.59 900.81 501.18 901.00 502.78 901.19 504.37 901.36 505.97 901.52 507.57 901.68 509.17 901.82 510.77 901.96 512.37 902.08 513.98 902.19 515.59 902.29 517.20 902.37 518.81 902.45 520.42 902.51 522.04 902.56 523.66 902.60 525.28 902.62 526.91 902.63 528.53 902.63 530.16 902.61 531.80 902.58 533.43 902.53 535.07 902.47 536.71 902.39 538.35 902.30 540.00 902.30 540.00" stroke="#0070c0" stroke-width="2.6" fill="none" stroke-linecap="round" stroke-linejoin="round" stroke-dasharray="0 5"/>
<text x="72.4" y="545.2" class="tl" text-anchor="end">0</text>
<text x="955" y="545.2" class="tl">0</text>
<text x="72.4" y="498.06" class="tl" text-anchor="end">23</text>
<text x="955" y="498.06" class="tl">1.1</text>
<text x="72.4" y="450.92" class="tl" text-anchor="end">46</text>
<text x="955" y="450.92" class="tl">2.2</text>
<text x="72.4" y="403.78" class="tl" text-anchor="end">69</text>
<text x="955" y="403.78" class="tl">3.3</text>
<text x="72.4" y="356.64" class="tl" text-anchor="end">92</text>
<text x="955" y="356.64" class="tl">4.4</text>
<text x="72.4" y="309.5" class="tl" text-anchor="end">115</text>
<text x="955" y="309.5" class="tl">5.5</text>
<text x="72.4" y="262.36" class="tl" text-anchor="end">138</text>
<text x="955" y="262.36" class="tl">6.6</text>
<text x="72.4" y="215.22" class="tl" text-anchor="end">161</text>
<text x="955" y="215.22" class="tl">7.7</text>
<text x="72.4" y="168.08" class="tl" text-anchor="end">184</text>
<text x="955" y="168.08" class="tl">8.8</text>
<text x="72.4" y="120.94" class="tl" text-anchor="end">207</text>
<text x="955" y="120.94" class="tl">9.9</text>
<text x="72.4" y="73.8" class="tl" text-anchor="end">230</text>
<text x="955" y="73.8" class="tl">11</text>
<text x="89.5" y="569.2" class="tl" text-anchor="middle">0</text>
<text x="174.32" y="569.2" class="tl" text-anchor="middle">52</text>
<text x="259.14" y="569.2" class="tl" text-anchor="middle">104</text>
<text x="343.96" y="569.2" class="tl" text-anchor="middle">156</text>
<text x="428.78" y="569.2" class="tl" text-anchor="middle">208</text>
<text x="513.6" y="569.2" class="tl" text-anchor="middle">260</text>
<text x="598.42" y="569.2" class="tl" text-anchor="middle">312</text>
<text x="683.24" y="569.2" class="tl" text-anchor="middle">364</text>
<text x="768.06" y="569.2" class="tl" text-anchor="middle">416</text>
<text x="852.88" y="569.2" class="tl" text-anchor="middle">468</text>
<text x="937.7" y="569.2" class="tl" text-anchor="middle">520</text>
<text x="273.81" y="41.7" style="font-size:30px" textLength="480.78" lengthAdjust="spacingAndGlyphs">Performance curve 360-EZS565-008</text>
<text x="441.95" y="597.5" style="font-size:21px" textLength="123.04" lengthAdjust="spacingAndGlyphs">Speed (RPM)</text>
<text transform="translate(33.9 363.5) rotate(-90)" style="font-size:20.5px" textLength="118.81" lengthAdjust="spacingAndGlyphs">Torque (Nm)</text>
<text transform="translate(1004.2 359.29) rotate(-90)" style="font-size:20.5px" textLength="110.91" lengthAdjust="spacingAndGlyphs">Power (kW)</text>
<line x1="85.65" y1="624.5" x2="126.6" y2="624.5" stroke="#ff0000" stroke-width="2.6" stroke-linecap="round"/>
<text x="130.9" y="628.75" style="font-size:13px" textLength="213.59" lengthAdjust="spacingAndGlyphs">Continuous Torque (Nm) at 8 Arms</text>
<line x1="393.45" y1="624.5" x2="434.4" y2="624.5" stroke="#ff0000" stroke-width="2.6" stroke-linecap="round" stroke-dasharray="17.5 10"/>
<text x="443.3" y="628.75" style="font-size:13px" textLength="146.83" lengthAdjust="spacingAndGlyphs">Torque (Nm) at 10 Arms</text>
<line x1="701.85" y1="624.5" x2="742.8" y2="624.5" stroke="#ff0000" stroke-width="2.6" stroke-linecap="round" stroke-dasharray="17.5 10 0 10 0 10"/>
<text x="751.5" y="628.75" style="font-size:13px" textLength="146.93" lengthAdjust="spacingAndGlyphs">Torque (Nm) at 12 Arms</text>
<line x1="85.65" y1="647.5" x2="126.6" y2="647.5" stroke="#ff0000" stroke-width="2.6" stroke-linecap="round" stroke-dasharray="0 5"/>
<text x="133.79" y="652.2" style="font-size:13px" textLength="181.1" lengthAdjust="spacingAndGlyphs">Peak Torque (Nm) at 16 Arms</text>
<line x1="393.45" y1="647.5" x2="434.4" y2="647.5" stroke="#0070c0" stroke-width="2.6" stroke-linecap="round"/>
<text x="439.21" y="652.2" style="font-size:13px" textLength="207.57" lengthAdjust="spacingAndGlyphs">Continuous Power (kW) at 8 Arms</text>
<line x1="701.85" y1="647.5" x2="742.8" y2="647.5" stroke="#0070c0" stroke-width="2.6" stroke-linecap="round" stroke-dasharray="17.5 10"/>
<text x="746.99" y="652.2" style="font-size:13px" textLength="141.42" lengthAdjust="spacingAndGlyphs">Power (kW) at 10 Arms</text>
<line x1="85.65" y1="670.7" x2="126.6" y2="670.7" stroke="#0070c0" stroke-width="2.6" stroke-linecap="round" stroke-dasharray="17.5 10 0 10"/>
<text x="130.49" y="674.8" style="font-size:13px" textLength="141.92" lengthAdjust="spacingAndGlyphs">Power (kW) at 12 Arms</text>
<line x1="393.45" y1="670.7" x2="434.4" y2="670.7" stroke="#0070c0" stroke-width="2.6" stroke-linecap="round" stroke-dasharray="0 5"/>
<text x="439.2" y="674.8" style="font-size:13px" textLength="174.17" lengthAdjust="spacingAndGlyphs">Peak Power (kW) at 16 Arms</text>
</svg>
</body></html>
